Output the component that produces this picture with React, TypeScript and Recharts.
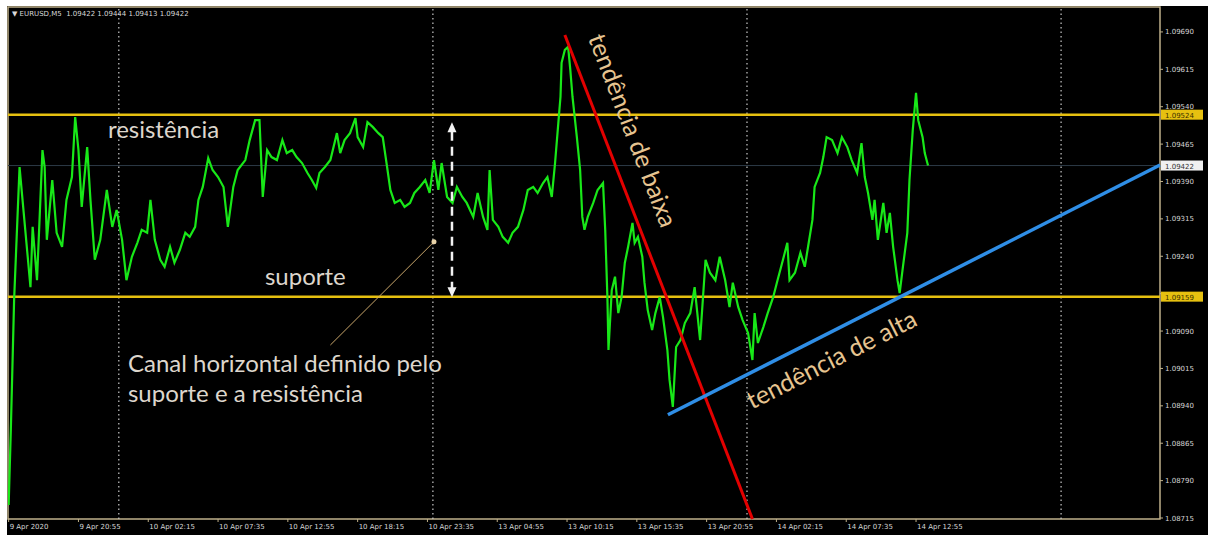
import React from "react";
import {
  LineChart,
  Line,
  XAxis,
  YAxis,
  ReferenceLine,
  ReferenceDot,
  ReferenceArea,
} from "recharts";

// M5 bar index (0 = 9 Apr 2020 15:35) and close price
const bars = [
  0, 2, 5, 8, 10, 20, 22, 26, 31, 33, 35, 40, 44, 49, 53, 58, 61, 64, 67, 72,
  75, 79, 84, 90, 95, 99, 104, 108, 113, 118, 122, 127, 130, 134, 139, 143, 148,
  152, 157, 162, 166, 171, 174, 178, 183, 187, 192, 197, 201, 206, 210, 217, 221,
  226, 230, 233, 237, 241, 246, 251, 255, 260, 264, 269, 274, 278, 282, 285, 290,
  295, 301, 304, 308, 313, 318, 320, 325, 329, 334, 339, 343, 347, 350, 354, 359,
  363, 368, 372, 377, 382, 386, 390, 394, 397, 402, 407, 411, 416, 420, 426, 430,
  435, 439, 441, 444, 449, 453, 458, 462, 467, 472, 476, 481, 485, 490, 494, 498,
  501, 504, 506, 507, 510, 513, 515, 517, 521, 524, 526, 528, 531, 536, 540, 545,
  547, 549, 550, 553, 556, 559, 562, 565, 568, 572, 574, 577, 581, 583, 586, 590,
  593, 597, 600, 604, 606, 609, 612, 616, 620, 625, 629, 634, 639, 643, 648, 652,
  657, 661, 664, 669, 673, 678, 682, 684, 687, 692, 696, 701, 705, 710, 714, 716,
  721, 726, 730, 733, 737, 739, 744, 747, 750, 755, 760, 764, 769, 773, 778, 782,
  785, 788, 792, 794, 797, 802, 805, 808, 811, 815, 817, 820, 824, 826, 829, 832,
  834, 838, 840, 843,
];

const closes = [
  1.08741, 1.08892, 1.09152, 1.09313, 1.09419, 1.09178, 1.09299, 1.09192, 1.09453, 1.09419,
  1.09273, 1.09393, 1.09287, 1.09259, 1.09353, 1.09399, 1.09519, 1.09453, 1.09339, 1.09459,
  1.09353, 1.09233, 1.09273, 1.09373, 1.09299, 1.09333, 1.09273, 1.09192, 1.09239, 1.09267,
  1.09293, 1.09287, 1.09353, 1.09273, 1.09233, 1.09219, 1.09259, 1.09227, 1.09253, 1.09287,
  1.09279, 1.09299, 1.09353, 1.09379, 1.09437, 1.09413, 1.09399, 1.09379, 1.09299, 1.09379,
  1.09413, 1.09433, 1.09473, 1.09513, 1.09513, 1.09359, 1.09453, 1.09439, 1.09433, 1.09473,
  1.09447, 1.09453, 1.09439, 1.09427, 1.09407, 1.09393, 1.09377, 1.09407, 1.09419, 1.09433,
  1.09487, 1.09447, 1.09473, 1.09487, 1.09517, 1.09479, 1.09459, 1.09509, 1.09499, 1.09487,
  1.09479, 1.09419, 1.09373, 1.09347, 1.09353, 1.09339, 1.09347, 1.09367, 1.09379, 1.09393,
  1.09367, 1.09433, 1.09373, 1.09427, 1.09359, 1.09347, 1.09379, 1.09359, 1.09347, 1.09319,
  1.09367, 1.09319, 1.09293, 1.09413, 1.09313, 1.09299, 1.09279, 1.09267, 1.09287, 1.09299,
  1.09333, 1.09373, 1.09379, 1.09367, 1.09387, 1.09399, 1.09359, 1.09427, 1.09507, 1.0956,
  1.09628, 1.09654, 1.0966, 1.09614, 1.0956, 1.09479, 1.09413, 1.09319, 1.09293, 1.09319,
  1.09347, 1.09373, 1.09387, 1.09293, 1.09158, 1.09052, 1.09172, 1.09199, 1.09126, 1.09158,
  1.09227, 1.09259, 1.09307, 1.09267, 1.09279, 1.09239, 1.09187, 1.09132, 1.09092, 1.09126,
  1.09158, 1.09118, 1.09052, 1.08992, 1.08938, 1.09058, 1.09072, 1.09106, 1.09126, 1.09178,
  1.09072, 1.09233, 1.09207, 1.09192, 1.09239, 1.09192, 1.09138, 1.09187, 1.09138, 1.09112,
  1.09086, 1.09032, 1.09126, 1.09066, 1.09098, 1.09126, 1.09158, 1.09192, 1.09233, 1.09267,
  1.09192, 1.09207, 1.09247, 1.09219, 1.09259, 1.09313, 1.09379, 1.09407, 1.09439, 1.09479,
  1.09473, 1.09447, 1.09479, 1.09459, 1.09433, 1.09407, 1.09467, 1.09399, 1.09367, 1.09313,
  1.09353, 1.09273, 1.09347, 1.09287, 1.09327, 1.09259, 1.09192, 1.09166, 1.09219, 1.09287,
  1.09393, 1.09493, 1.09568, 1.09513, 1.09479, 1.09447, 1.09422,
];

const timeTicks = [0, 64, 128, 192, 256, 320, 384, 448, 512, 576, 640, 704, 768, 832];
const timeLabels = [
  "9 Apr 2020", "9 Apr 20:55", "10 Apr 02:15", "10 Apr 07:35", "10 Apr 12:55",
  "10 Apr 18:15", "10 Apr 23:35", "13 Apr 04:55", "13 Apr 10:15", "13 Apr 15:35",
  "13 Apr 20:55", "14 Apr 02:15", "14 Apr 07:35", "14 Apr 12:55",
];
const priceTicks = [
  1.08715, 1.0879, 1.08865, 1.0894, 1.09015, 1.0909, 1.09165, 1.0924, 1.09315,
  1.0939, 1.09465, 1.0954, 1.09615, 1.0969,
];
// tick labels hidden under a price tag
const coveredTicks = [1.09165];
const daySeparators = [101, 389, 677, 965];

const resistance = 1.09524;
const support = 1.09159;
const bid = 1.09422;

// trend lines: [bar, price] ends
const downTrend = [[510, 1.09684], [682, 1.08713]];
const upTrend = [[604.5, 1.08922], [1055.7, 1.09423]];

const xDomain = [-0.6, 1055.7];
const yDomain = [1.08713, 1.0974];

const data = bars.map((b, i) => ({ bar: b, close: closes[i] }));

const axisFont = "'DejaVu Sans', Tahoma, sans-serif";
const noteFont = "Lato, 'Open Sans', sans-serif";

function Note({ cx, cy, text, size = 24, color = "#ddd6cc", angle = 0 }: any) {
  return (
    <text
      x={cx}
      y={cy}
      fontSize={size}
      fill={color}
      fontFamily={noteFont}
      transform={angle ? `rotate(${angle} ${cx} ${cy})` : undefined}
    >
      {text}
    </text>
  );
}

function PriceTag({ cx, cy, text, bg, fg }: any) {
  return (
    <g>
      <rect x={cx + 1} y={cy - 5} width={42} height={10} fill={bg} />
      <text x={cx + 5} y={cy + 3} fontSize={7} fill={fg} fontFamily={axisFont}>
        {text}
      </text>
    </g>
  );
}

export default function App() {
  return (
    <div
      style={{
        position: "absolute",
        left: 0,
        top: 0,
        width: 1208,
        height: 535,
        background: "#fff",
        fontFamily: axisFont,
      }}
    >
      <div
        style={{ position: "absolute", left: 7, top: 6, width: 1201, height: 529, background: "#000" }}
      />
      <div
        style={{ position: "absolute", left: 12, top: 10, fontSize: 7, color: "#d8d8d8", whiteSpace: "pre", zIndex: 2 }}
      >
        {"▼ EURUSD,M5  1.09422 1.09444 1.09413 1.09422"}
      </div>
      <div style={{ position: "absolute", left: 0, top: 0 }}>
        <LineChart
          width={1208}
          height={535}
          data={data}
          margin={{ top: 7, right: 0, bottom: 0, left: 8 }}
        >
          <XAxis
            dataKey="bar"
            type="number"
            domain={xDomain}
            ticks={timeTicks}
            allowDataOverflow
            height={16}
            axisLine={false}
            tickSize={3}
            tickMargin={1}
            tickLine={{ stroke: "#bfb08a" }}
            tick={({ x, y, payload }: any) => (
              <text x={x + 1} y={y + 6} fontSize={7} fill="#d6d6d6" fontFamily={axisFont}>
                {timeLabels[timeTicks.indexOf(payload.value)]}
              </text>
            )}
          />
          <YAxis
            orientation="right"
            type="number"
            domain={yDomain}
            ticks={priceTicks}
            allowDataOverflow
            width={48}
            axisLine={false}
            tickSize={3}
            tickMargin={2}
            tickLine={{ stroke: "#bfb08a" }}
            tick={({ x, y, payload }: any) =>
              coveredTicks.includes(payload.value) ? (
                <g />
              ) : (
                <text x={x} y={y + 2.5} fontSize={7} fill="#d6d6d6" fontFamily={axisFont}>
                  {payload.value.toFixed(5)}
                </text>
              )
            }
          />
          <ReferenceArea
            x1={xDomain[0]}
            x2={xDomain[1]}
            y1={yDomain[0]}
            y2={yDomain[1]}
            fill="none"
            stroke="#bfb08a"
            strokeWidth={1.5}
            ifOverflow="visible"
          />
          {daySeparators.map((d) => (
            <ReferenceLine key={d} x={d} stroke="#c8c8c8" strokeWidth={1.2} strokeDasharray="1.5 3" />
          ))}
          <ReferenceLine y={bid} stroke="#2c3946" strokeWidth={1} />
          <ReferenceLine y={resistance} stroke="#e6c010" strokeWidth={2.5} />
          <ReferenceLine y={support} stroke="#e6c010" strokeWidth={2.5} />

          <Line
            dataKey="close"
            type="linear"
            stroke="#18e818"
            strokeWidth={2.2}
            dot={false}
            isAnimationActive={false}
          />

          <ReferenceLine
            segment={[{ x: downTrend[0][0], y: downTrend[0][1] }, { x: downTrend[1][0], y: downTrend[1][1] }]}
            stroke="#e30000"
            strokeWidth={3}
            ifOverflow="visible"
          />
          <ReferenceLine
            segment={[{ x: upTrend[0][0], y: upTrend[0][1] }, { x: upTrend[1][0], y: upTrend[1][1] }]}
            stroke="#2f8ee6"
            strokeWidth={3.5}
            ifOverflow="visible"
          />

          {/* channel height arrow */}
          <ReferenceLine
            segment={[{ x: 406.5, y: 1.0949 }, { x: 406.5, y: 1.09176 }]}
            stroke="#f2f2f2"
            strokeWidth={2.5}
            strokeDasharray="9 6"
            ifOverflow="visible"
          />
          <ReferenceDot
            x={406.5}
            y={1.09509}
            ifOverflow="visible"
            shape={({ cx, cy }: any) => (
              <path d={`M${cx},${cy} L${cx - 4.5},${cy + 10} L${cx + 4.5},${cy + 10} Z`} fill="#f2f2f2" />
            )}
          />
          <ReferenceDot
            x={406.5}
            y={1.09158}
            ifOverflow="visible"
            shape={({ cx, cy }: any) => (
              <path d={`M${cx},${cy} L${cx - 4.5},${cy - 10} L${cx + 4.5},${cy - 10} Z`} fill="#f2f2f2" />
            )}
          />

          {/* pointer from the note to the support */}
          <ReferenceLine
            segment={[{ x: 390, y: 1.09269 }, { x: 295, y: 1.09062 }]}
            stroke="#c9a66b"
            strokeWidth={1}
            ifOverflow="visible"
          />
          <ReferenceDot x={390} y={1.09269} r={2.5} fill="#e8d2a8" stroke="none" ifOverflow="visible" />

          <ReferenceDot x={91} y={1.09477} ifOverflow="visible" shape={(p: any) => <Note {...p} text="resistência" />} />
          <ReferenceDot x={235} y={1.09182} ifOverflow="visible" shape={(p: any) => <Note {...p} text="suporte" />} />
          <ReferenceDot
            x={109.4}
            y={1.09008}
            ifOverflow="visible"
            shape={(p: any) => <Note {...p} text="Canal horizontal definido pelo" />}
          />
          <ReferenceDot
            x={109.4}
            y={1.08948}
            ifOverflow="visible"
            shape={(p: any) => <Note {...p} text="suporte e a resistência" />}
          />
          <ReferenceDot
            x={531}
            y={1.09678}
            ifOverflow="visible"
            shape={(p: any) => <Note {...p} text="tendência de baixa" color="#e6c490" size={25} angle={69} />}
          />
          <ReferenceDot
            x={681.6}
            y={1.08932}
            ifOverflow="visible"
            shape={(p: any) => <Note {...p} text="tendência de alta" color="#e6c490" size={25} angle={-27} />}
          />

          <ReferenceDot
            x={xDomain[1]}
            y={resistance}
            ifOverflow="visible"
            shape={(p: any) => <PriceTag {...p} text="1.09524" bg="#e6c010" fg="#3a3000" />}
          />
          <ReferenceDot
            x={xDomain[1]}
            y={support}
            ifOverflow="visible"
            shape={(p: any) => <PriceTag {...p} text="1.09159" bg="#e6c010" fg="#3a3000" />}
          />
          <ReferenceDot
            x={xDomain[1]}
            y={bid}
            ifOverflow="visible"
            shape={(p: any) => <PriceTag {...p} text="1.09422" bg="#f0f0f0" fg="#333" />}
          />
        </LineChart>
      </div>
    </div>
  );
}
